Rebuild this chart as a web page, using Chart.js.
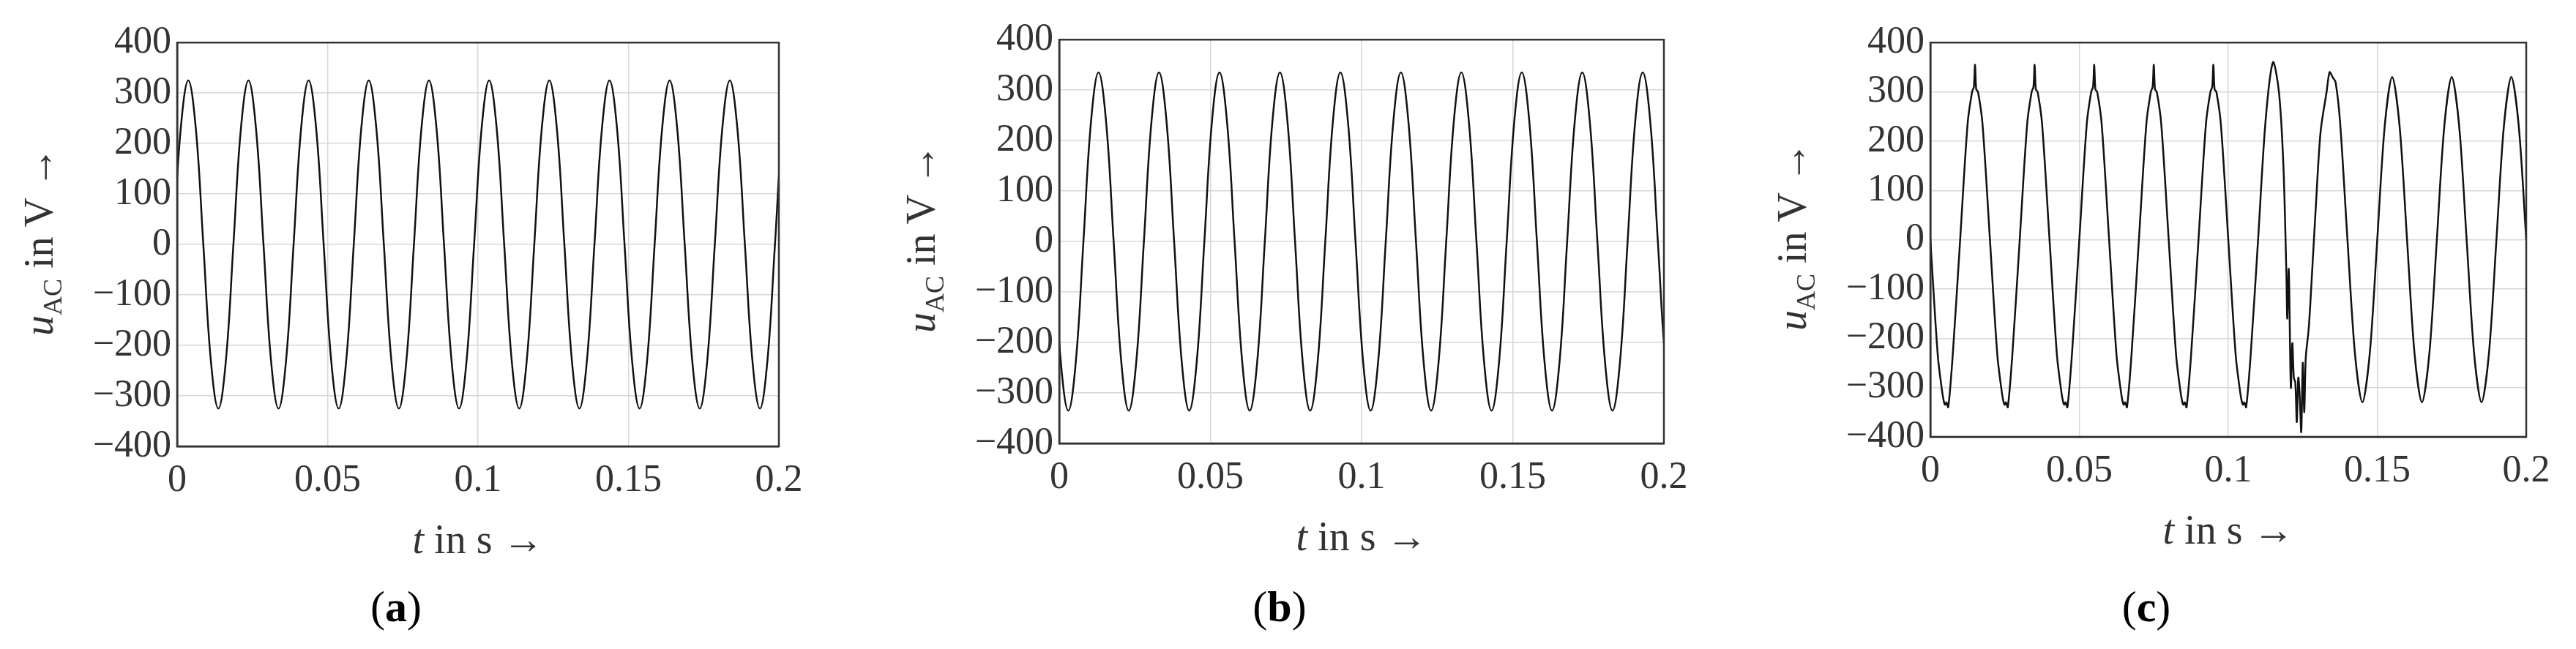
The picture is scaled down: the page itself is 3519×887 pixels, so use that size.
<!DOCTYPE html>
<html><head><meta charset="utf-8">
<script src="https://cdn.jsdelivr.net/npm/chart.js@4/dist/chart.umd.min.js"></script>
<style>
body{margin:0;background:#fff;width:3519px;height:887px;position:relative;overflow:hidden;font-family:"DejaVu Serif","Liberation Serif",serif}
canvas{position:absolute}
.yt{position:absolute;transform:translate(-50%,-50%) rotate(-90deg);font-size:56px;white-space:nowrap;color:#333;font-family:"Liberation Serif",serif}
.yt sub{font-size:36px}
.xt{position:absolute;transform:translateX(-50%);font-size:56px;white-space:nowrap;color:#333;font-family:"Liberation Serif",serif}
.cap{position:absolute;transform:translateX(-50%);font-size:60px;font-family:"Liberation Serif",serif;color:#000}
</style></head><body>
<script>
// ---- data ----
const xTicks = [0, 0.05, 0.1, 0.15, 0.2];
const yTicks = [-400,-300,-200,-100,0,100,200,300,400];
const period = 0.02;
// one-period shape (fraction of period after rising zero crossing, value V)
const phaseA = [0,0.125,0.25,0.375,0.5,0.625,0.75,0.875];
const shapeA = [0,230,325,230,0,-230,-325,-230];
const startA = -0.0013;
const shapeB = [0,237,335,237,0,-237,-335,-237];
const startB = -0.012;
const phaseC = [0,0.125,0.2,0.23,0.25,0.27,0.3,0.375,0.5,0.625,0.7,0.73,0.75,0.77,0.8,0.875];
const shapeC = [0,235,300,310,355,305,300,235,0,-235,-310,-330,-335,-330,-340,-235];
const shapeCclean = [0,230,330,230,0,-230,-330,-230];
const startC = -0.01;
// disturbed interval of (c)
const tDist = [0.110,0.1125,0.115,0.117,0.1185,0.1195,0.1198,0.1203,0.121,0.1215,0.122,0.1225,0.123,0.1235,0.124,0.1245,0.125,0.1255,0.126,0.127,0.128,0.1295,0.131,0.133,0.134,0.135,0.136,0.1375,0.14];
const uDist = [0,240,360,300,150,-70,-160,-60,-300,-210,-280,-290,-370,-280,-320,-390,-250,-350,-240,-180,-80,80,220,300,340,330,320,240,0];

function build(start, phases, shape){
  const pts=[];
  for(let n=0;n<12;n++){
    phases.forEach((p,i)=>pts.push({x:start+n*period+p*period,y:shape[i]}));
  }
  return pts;
}
const dataA = build(startA, phaseA, shapeA);
const dataB = build(startB, phaseA, shapeB);
const dataC = build(startC, phaseC, shapeC).filter(p=>p.x<0.1099)
  .concat(tDist.map((t,i)=>({x:t,y:uDist[i]})))
  .concat(build(startC, phaseA, shapeCclean).filter(p=>p.x>0.1401))
  .sort((a,b)=>a.x-b.x);

const panels = [
  {data:dataA, left:242, top:49, right:1064, bottom:610, tension:0.4, cap:'a'},
  {data:dataB, left:1447, top:45, right:2273, bottom:606, tension:0.4, cap:'b'},
  {data:dataC, left:2637, top:49, right:3451, bottom:597, tension:0.3, cap:'c'}
];
const YW=200, PT=30, PR=50;
panels.forEach(P=>{
  const c=document.createElement('canvas');
  const w=P.right-P.left+YW+PR, h=887-(P.top-PT);
  c.width=w;c.height=h;c.style.width=w+'px';c.style.height=h+'px';
  c.style.left=(P.left-YW)+'px';c.style.top=(P.top-PT)+'px';
  document.body.appendChild(c);
  const xh = h-PT-(P.bottom-P.top);
  const tickFont={family:'"Liberation Serif", serif',size:52};
  new Chart(c,{type:'line',
    data:{datasets:[{data:P.data,borderColor:'#111',borderWidth:2.5,pointRadius:0,tension:P.tension,fill:false}]},
    options:{responsive:false,animation:false,devicePixelRatio:1,
      layout:{padding:{top:PT,right:PR,left:0,bottom:0}},
      plugins:{legend:{display:false},tooltip:{enabled:false}},
      scales:{
        x:{type:'linear',min:0,max:0.2,
          afterBuildTicks:s=>{s.ticks=xTicks.map(v=>({value:v}))},
          afterFit:s=>{s.height=xh},
          ticks:{font:tickFont,color:'#333',padding:16,maxRotation:0,callback:v=>String(v)},
          grid:{color:'#d8d8d8',lineWidth:1.5,drawTicks:false},border:{color:'#333',width:2.5}},
        y:{min:-400,max:400,
          afterBuildTicks:s=>{s.ticks=yTicks.map(v=>({value:v}))},
          afterFit:s=>{s.width=YW},
          ticks:{font:tickFont,color:'#333',padding:8,callback:v=>v<0?'\u2212'+(-v):String(v)},
          grid:{color:'#d8d8d8',lineWidth:1.5,drawTicks:false},border:{color:'#333',width:2.5}}
      }
    },
    plugins:[{id:'box',afterDraw(ch){const a=ch.chartArea,g=ch.ctx;g.save();g.strokeStyle='#333';g.lineWidth=2.5;g.strokeRect(a.left,a.top,a.right-a.left,a.bottom-a.top);g.restore();}}]
  });
  const yt=document.createElement('div');yt.className='yt';
  yt.innerHTML='<i>u</i><sub>AC</sub> in V \u2192';
  yt.style.left=(P.left-185)+'px';yt.style.top=((P.top+P.bottom)/2)+'px';document.body.appendChild(yt);
  const xt=document.createElement('div');xt.className='xt';
  xt.innerHTML='<i>t</i> in s \u2192';
  xt.style.left=((P.left+P.right)/2)+'px';xt.style.top=(P.bottom+95)+'px';document.body.appendChild(xt);
  const cp=document.createElement('div');cp.className='cap';
  cp.innerHTML='(<b>'+P.cap+'</b>)';
  cp.style.left=((P.left+P.right)/2-112)+'px';cp.style.top='795px';document.body.appendChild(cp);
});
</script>
</body></html>
